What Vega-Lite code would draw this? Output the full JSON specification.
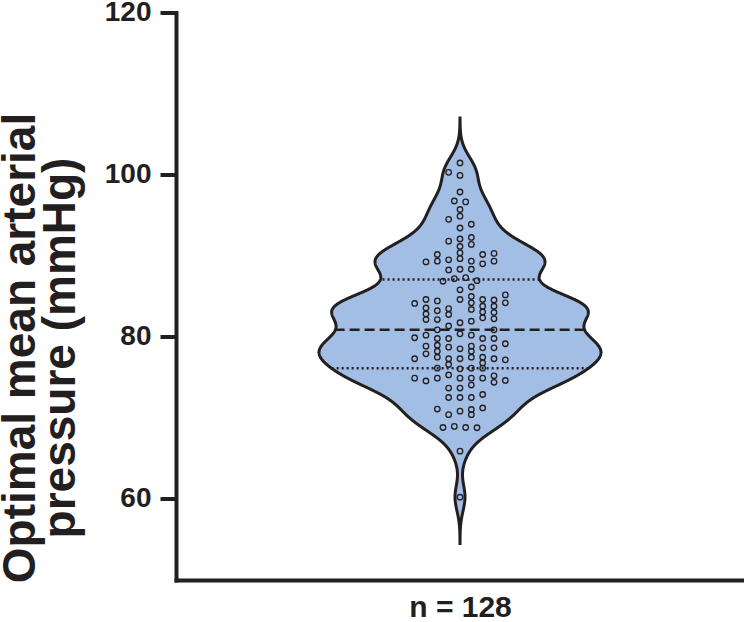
{
  "$schema": "https://vega.github.io/schema/vega-lite/v6.json",
  "autosize": "none",
  "width": 568,
  "height": 567.5,
  "padding": {"left": 176, "top": 12.5, "right": 0, "bottom": 42},
  "background": "white",
  "config": {"view": {"stroke": null}},
  "data": {"values": [
    {"slot":0,"mmHg":101.44},{"slot":-2,"mmHg":100.29},{"slot":0,"mmHg":99.90},{"slot":0,"mmHg":97.86},{"slot":-1,"mmHg":96.75},{"slot":1,"mmHg":96.63},{"slot":0,"mmHg":95.70},{"slot":0,"mmHg":94.88},{"slot":-2,"mmHg":94.49},{"slot":2,"mmHg":93.88},{"slot":0,"mmHg":93.42},
    {"slot":-2,"mmHg":91.79},{"slot":0,"mmHg":92.06},{"slot":2,"mmHg":92.25},{"slot":0,"mmHg":91.14},{"slot":2,"mmHg":91.39},{"slot":0,"mmHg":90.34},{"slot":-4,"mmHg":90.15},{"slot":4,"mmHg":90.15},{"slot":6,"mmHg":90.28},
    {"slot":-6,"mmHg":89.23},{"slot":-4,"mmHg":89.33},{"slot":-2,"mmHg":89.50},{"slot":0,"mmHg":89.63},{"slot":2,"mmHg":89.33},{"slot":4,"mmHg":89.00},{"slot":6,"mmHg":89.33},
    {"slot":-2,"mmHg":88.24},{"slot":0,"mmHg":88.33},{"slot":2,"mmHg":88.33},
    {"slot":-3,"mmHg":86.85},{"slot":-1,"mmHg":87.17},{"slot":1,"mmHg":87.29},{"slot":3,"mmHg":86.92},
    {"slot":0,"mmHg":85.80},{"slot":2,"mmHg":86.14},
    {"slot":-6,"mmHg":84.60},{"slot":-4,"mmHg":84.42},{"slot":0,"mmHg":84.60},{"slot":2,"mmHg":84.97},{"slot":4,"mmHg":84.60},{"slot":6,"mmHg":84.54},{"slot":8,"mmHg":85.16},
    {"slot":-8,"mmHg":84.11},{"slot":2,"mmHg":84.19},{"slot":8,"mmHg":84.19},
    {"slot":-6,"mmHg":83.55},{"slot":-4,"mmHg":83.21},{"slot":-2,"mmHg":83.47},{"slot":2,"mmHg":83.37},{"slot":4,"mmHg":83.77},{"slot":6,"mmHg":83.77},
    {"slot":-6,"mmHg":82.81},{"slot":-2,"mmHg":82.75},{"slot":4,"mmHg":83.06},{"slot":6,"mmHg":83.00},
    {"slot":-6,"mmHg":82.13},{"slot":-4,"mmHg":82.13},{"slot":4,"mmHg":82.34},{"slot":6,"mmHg":82.22},{"slot":2,"mmHg":81.92},{"slot":0,"mmHg":81.73},{"slot":-2,"mmHg":81.33},
    {"slot":-4,"mmHg":80.86},{"slot":6,"mmHg":80.86},
    {"slot":-8,"mmHg":79.88},{"slot":-6,"mmHg":80.20},{"slot":-4,"mmHg":79.79},{"slot":-2,"mmHg":79.79},{"slot":0,"mmHg":80.37},{"slot":2,"mmHg":80.20},{"slot":4,"mmHg":79.79},{"slot":6,"mmHg":79.79},
    {"slot":-6,"mmHg":78.84},{"slot":-4,"mmHg":78.96},{"slot":-2,"mmHg":78.72},{"slot":0,"mmHg":78.52},{"slot":2,"mmHg":78.84},{"slot":4,"mmHg":78.64},{"slot":6,"mmHg":78.64},{"slot":8,"mmHg":79.14},
    {"slot":-6,"mmHg":77.90},{"slot":-4,"mmHg":78.22},{"slot":2,"mmHg":78.22},
    {"slot":-4,"mmHg":77.48},{"slot":-8,"mmHg":77.29},{"slot":-2,"mmHg":77.29},{"slot":0,"mmHg":77.29},{"slot":2,"mmHg":77.48},{"slot":4,"mmHg":77.48},{"slot":6,"mmHg":77.29},{"slot":8,"mmHg":77.16},
    {"slot":-2,"mmHg":76.58},{"slot":4,"mmHg":76.77},
    {"slot":-4,"mmHg":76.13},{"slot":0,"mmHg":76.05},{"slot":2,"mmHg":76.13},{"slot":4,"mmHg":76.13},
    {"slot":-2,"mmHg":75.29},{"slot":-8,"mmHg":74.89},{"slot":-6,"mmHg":74.55},{"slot":-4,"mmHg":74.89},{"slot":0,"mmHg":74.89},{"slot":2,"mmHg":74.89},{"slot":2,"mmHg":74.05},{"slot":4,"mmHg":74.89},{"slot":6,"mmHg":75.19},{"slot":6,"mmHg":74.39},{"slot":8,"mmHg":74.61},
    {"slot":-2,"mmHg":73.68},{"slot":0,"mmHg":73.68},
    {"slot":-2,"mmHg":72.51},{"slot":0,"mmHg":72.51},{"slot":2,"mmHg":72.51},{"slot":4,"mmHg":72.88},
    {"slot":-4,"mmHg":71.09},{"slot":-2,"mmHg":70.39},{"slot":0,"mmHg":70.82},{"slot":2,"mmHg":71.03},{"slot":2,"mmHg":70.39},{"slot":4,"mmHg":71.22},
    {"slot":-3,"mmHg":68.81},{"slot":-1,"mmHg":68.94},{"slot":1,"mmHg":68.81},{"slot":3,"mmHg":68.78},
    {"slot":0,"mmHg":65.89},{"slot":0,"mmHg":60.21}
  ]},
  "encoding": {
    "y": {
      "field": "mmHg",
      "type": "quantitative",
      "scale": {"domain": [50, 120], "nice": false, "zero": false},
      "axis": {
        "values": [60, 80, 100, 120],
        "grid": false,
        "domainColor": "#231f20",
        "domainWidth": 4,
        "domainCap": "square",
        "tickColor": "#231f20",
        "tickWidth": 4,
        "tickSize": 16,
        "labelFont": "Liberation Sans",
        "labelFontSize": 28,
        "labelFontWeight": "bold",
        "labelColor": "#231f20",
        "labelPadding": 9,
        "title": ["Optimal mean arterial", "pressure (mmHg)"],
        "titleFont": "Liberation Sans",
        "titleFontSize": 46,
        "titleFontWeight": "bold",
        "titleColor": "#231f20",
        "titleLineHeight": 40,
        "titlePadding": 20,
        "titleY": 335
      }
    }
  },
  "resolve": {"scale": {"x": "independent"}, "axis": {"x": "independent"}},
  "layer": [
    {
      "transform": [
        {"joinaggregate": [
          {"op": "median", "field": "mmHg", "as": "med"},
          {"op": "q1", "field": "mmHg", "as": "lq"},
          {"op": "q3", "field": "mmHg", "as": "uq"}
        ]},
        {"density": "mmHg", "groupby": ["med", "lq", "uq"], "bandwidth": 1.7, "extent": [54.5, 107], "steps": 1051, "as": ["mmHg", "density"]}
      ],
      "layer": [
        {
          "mark": {"type": "area", "orient": "horizontal", "fill": "#a3bee4", "stroke": "#231f20", "strokeWidth": 3},
          "encoding": {
            "x": {"field": "density", "type": "quantitative", "stack": "center", "impute": null, "axis": null, "scale": {"nice": false, "padding": 143}}
          }
        },
        {
          "mark": {"type": "rule", "orient": "horizontal", "color": "#231f20", "strokeWidth": 2.5, "strokeDash": [10, 5]},
          "encoding": {
            "x": {"field": "density", "type": "quantitative", "stack": "center", "impute": null, "axis": null, "scale": {"nice": false, "padding": 143}},
            "opacity": {"condition": {"test": "abs(datum.mmHg - datum.med) <= 0.025", "value": 1}, "value": 0}
          }
        },
        {
          "mark": {"type": "rule", "orient": "horizontal", "color": "#231f20", "strokeWidth": 2.5, "strokeDash": [2, 3]},
          "encoding": {
            "x": {"field": "density", "type": "quantitative", "stack": "center", "impute": null, "axis": null, "scale": {"nice": false, "padding": 143}},
            "opacity": {"condition": {"test": "abs(datum.mmHg - datum.lq) <= 0.025 || abs(datum.mmHg - datum.uq) <= 0.025", "value": 1}, "value": 0}
          }
        }
      ]
    },
    {
      "mark": {"type": "point", "shape": "circle", "filled": false, "stroke": "#231f20", "strokeWidth": 1.3, "size": 30, "opacity": 1},
      "encoding": {
        "x": {
          "field": "slot",
          "type": "quantitative",
          "scale": {"domain": [-50.1, 50.1], "nice": false, "zero": false},
          "axis": {
            "orient": "bottom",
            "title": "n = 128",
            "labels": false,
            "ticks": false,
            "grid": false,
            "domainColor": "#231f20",
            "domainWidth": 4,
            "domainCap": "square",
            "titleFont": "Liberation Sans",
            "titleFontSize": 30,
            "titleFontWeight": "bold",
            "titleColor": "#231f20",
            "titlePadding": 12
          }
        }
      }
    }
  ]
}
